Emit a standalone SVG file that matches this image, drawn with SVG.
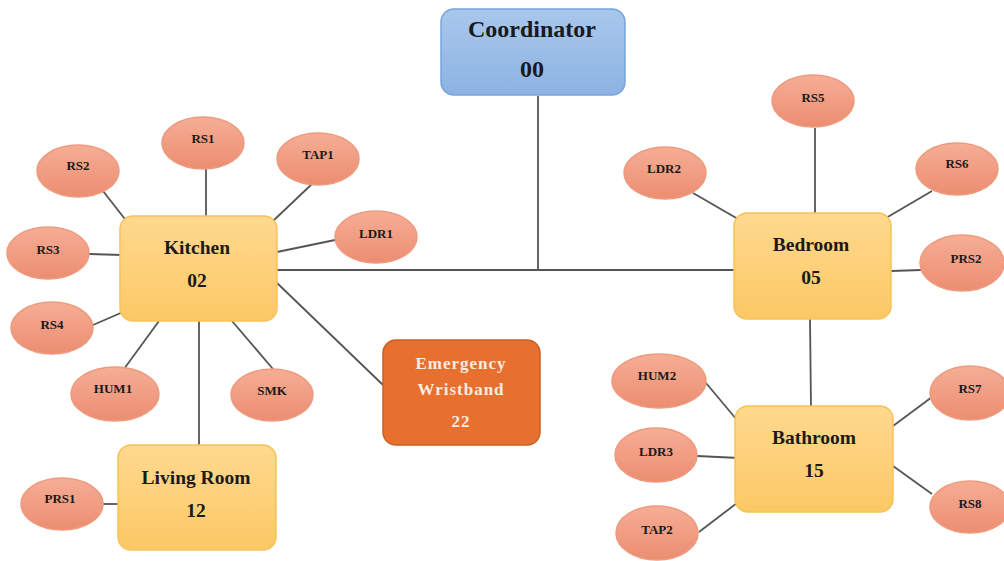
<svg xmlns="http://www.w3.org/2000/svg" width="1004" height="561" viewBox="0 0 1004 561">
<defs>
<linearGradient id="gS" x1="0" y1="0" x2="0" y2="1"><stop offset="0" stop-color="#f5ae95"/><stop offset="1" stop-color="#ec8d71"/></linearGradient>
<linearGradient id="gR" x1="0" y1="0" x2="0" y2="1"><stop offset="0" stop-color="#ffd98f"/><stop offset="1" stop-color="#fcc865"/></linearGradient>
<linearGradient id="gC" x1="0" y1="0" x2="0" y2="1"><stop offset="0" stop-color="#a9c7ec"/><stop offset="1" stop-color="#8cb3e2"/></linearGradient>
</defs>
<style>
.s{fill:url(#gS);stroke:#ee9a7e;stroke-width:1.5}
.r{fill:url(#gR);stroke:#f8c258;stroke-width:1.5}
.c{fill:url(#gC);stroke:#77a5da;stroke-width:1.5}
.e{fill:#e8702e;stroke:#cc5f22;stroke-width:1.5}
.ln{stroke:#555;stroke-width:1.8;fill:none}
text{font-family:"Liberation Serif","Times New Roman",serif;font-weight:bold;text-anchor:middle;fill:#1a1a1a}
.st{font-size:13px}
.rt{font-size:19.5px}
.ct{font-size:24px}
.wt{font-size:17px;fill:#f8ebe2;letter-spacing:1px}
</style>
<g id="connectors" class="ln">
<line x1="538" y1="96" x2="538" y2="270"/>
<line x1="277" y1="270" x2="735" y2="270"/>
<line x1="206" y1="169" x2="206" y2="217"/>
<line x1="103" y1="191" x2="128" y2="223"/>
<line x1="313" y1="183" x2="273" y2="221"/>
<line x1="335" y1="240" x2="277" y2="252"/>
<line x1="89" y1="254" x2="122" y2="255"/>
<line x1="93" y1="325" x2="123" y2="312"/>
<line x1="124" y1="369" x2="159" y2="321"/>
<line x1="273" y1="369" x2="232" y2="321"/>
<line x1="199" y1="321" x2="199" y2="446"/>
<line x1="276" y1="282" x2="383" y2="385"/>
<line x1="102" y1="504" x2="120" y2="504"/>
<line x1="815" y1="128" x2="815" y2="213"/>
<line x1="693" y1="193" x2="738" y2="219"/>
<line x1="932" y1="191" x2="886" y2="218"/>
<line x1="891" y1="271" x2="921" y2="270"/>
<line x1="810" y1="319" x2="811" y2="407"/>
<line x1="706" y1="383" x2="737" y2="420"/>
<line x1="697" y1="456" x2="739" y2="458"/>
<line x1="699" y1="532" x2="737" y2="503"/>
<line x1="932" y1="397" x2="893" y2="426"/>
<line x1="932" y1="494" x2="893" y2="466"/>
</g>
<g id="coordinator"><rect class="c" x="441" y="9" width="184" height="86" rx="13"/><text class="ct" x="532" y="37">Coordinator</text><text class="ct" x="532" y="77">00</text></g>
<g id="kitchen"><rect class="r" x="120" y="216" width="157" height="105" rx="13"/><text class="rt" x="197" y="254">Kitchen</text><text class="rt" x="197" y="287">02</text></g>
<g id="livingroom"><rect class="r" x="118" y="445" width="158" height="105" rx="13"/><text class="rt" x="196" y="484">Living Room</text><text class="rt" x="196" y="517">12</text></g>
<g id="bedroom"><rect class="r" x="734" y="213" width="157" height="106" rx="13"/><text class="rt" x="811" y="251">Bedroom</text><text class="rt" x="811" y="284">05</text></g>
<g id="bathroom"><rect class="r" x="735" y="406" width="158" height="106" rx="13"/><text class="rt" x="814" y="444">Bathroom</text><text class="rt" x="814" y="477">15</text></g>
<g id="wristband"><rect class="e" x="383" y="340" width="157" height="105" rx="13"/><text class="wt" x="461" y="369">Emergency</text><text class="wt" x="461" y="395">Wristband</text><text class="wt" x="461" y="427">22</text></g>
<g id="rs1"><ellipse class="s" cx="203" cy="143" rx="41" ry="26"/><text class="st" x="203" y="143">RS1</text></g>
<g id="rs2"><ellipse class="s" cx="78" cy="171" rx="41" ry="26"/><text class="st" x="78" y="170">RS2</text></g>
<g id="tap1"><ellipse class="s" cx="318" cy="159" rx="41" ry="26"/><text class="st" x="318" y="159">TAP1</text></g>
<g id="ldr1"><ellipse class="s" cx="376" cy="237" rx="41" ry="26"/><text class="st" x="376" y="238">LDR1</text></g>
<g id="rs3"><ellipse class="s" cx="48" cy="253" rx="41" ry="26"/><text class="st" x="48" y="254">RS3</text></g>
<g id="rs4"><ellipse class="s" cx="52" cy="328" rx="41" ry="26"/><text class="st" x="52" y="329">RS4</text></g>
<g id="hum1"><ellipse class="s" cx="115" cy="394" rx="44" ry="27"/><text class="st" x="113" y="393">HUM1</text></g>
<g id="smk"><ellipse class="s" cx="272" cy="395" rx="41" ry="26"/><text class="st" x="272" y="395">SMK</text></g>
<g id="prs1"><ellipse class="s" cx="62" cy="504" rx="41" ry="26"/><text class="st" x="60" y="503">PRS1</text></g>
<g id="rs5"><ellipse class="s" cx="813" cy="101" rx="41" ry="26"/><text class="st" x="813" y="102">RS5</text></g>
<g id="ldr2"><ellipse class="s" cx="665" cy="173" rx="41" ry="26"/><text class="st" x="664" y="173">LDR2</text></g>
<g id="rs6"><ellipse class="s" cx="957" cy="169" rx="41" ry="26"/><text class="st" x="957" y="168">RS6</text></g>
<g id="prs2"><ellipse class="s" cx="962" cy="263" rx="42" ry="28"/><text class="st" x="966" y="263">PRS2</text></g>
<g id="hum2"><ellipse class="s" cx="659" cy="381" rx="47" ry="27"/><text class="st" x="657" y="380">HUM2</text></g>
<g id="ldr3"><ellipse class="s" cx="656" cy="455" rx="41" ry="27"/><text class="st" x="656" y="456">LDR3</text></g>
<g id="tap2"><ellipse class="s" cx="657" cy="533" rx="41" ry="27"/><text class="st" x="657" y="534">TAP2</text></g>
<g id="rs7"><ellipse class="s" cx="970" cy="393" rx="40" ry="27"/><text class="st" x="970" y="393">RS7</text></g>
<g id="rs8"><ellipse class="s" cx="970" cy="507" rx="40" ry="26"/><text class="st" x="970" y="508">RS8</text></g>
</svg>
